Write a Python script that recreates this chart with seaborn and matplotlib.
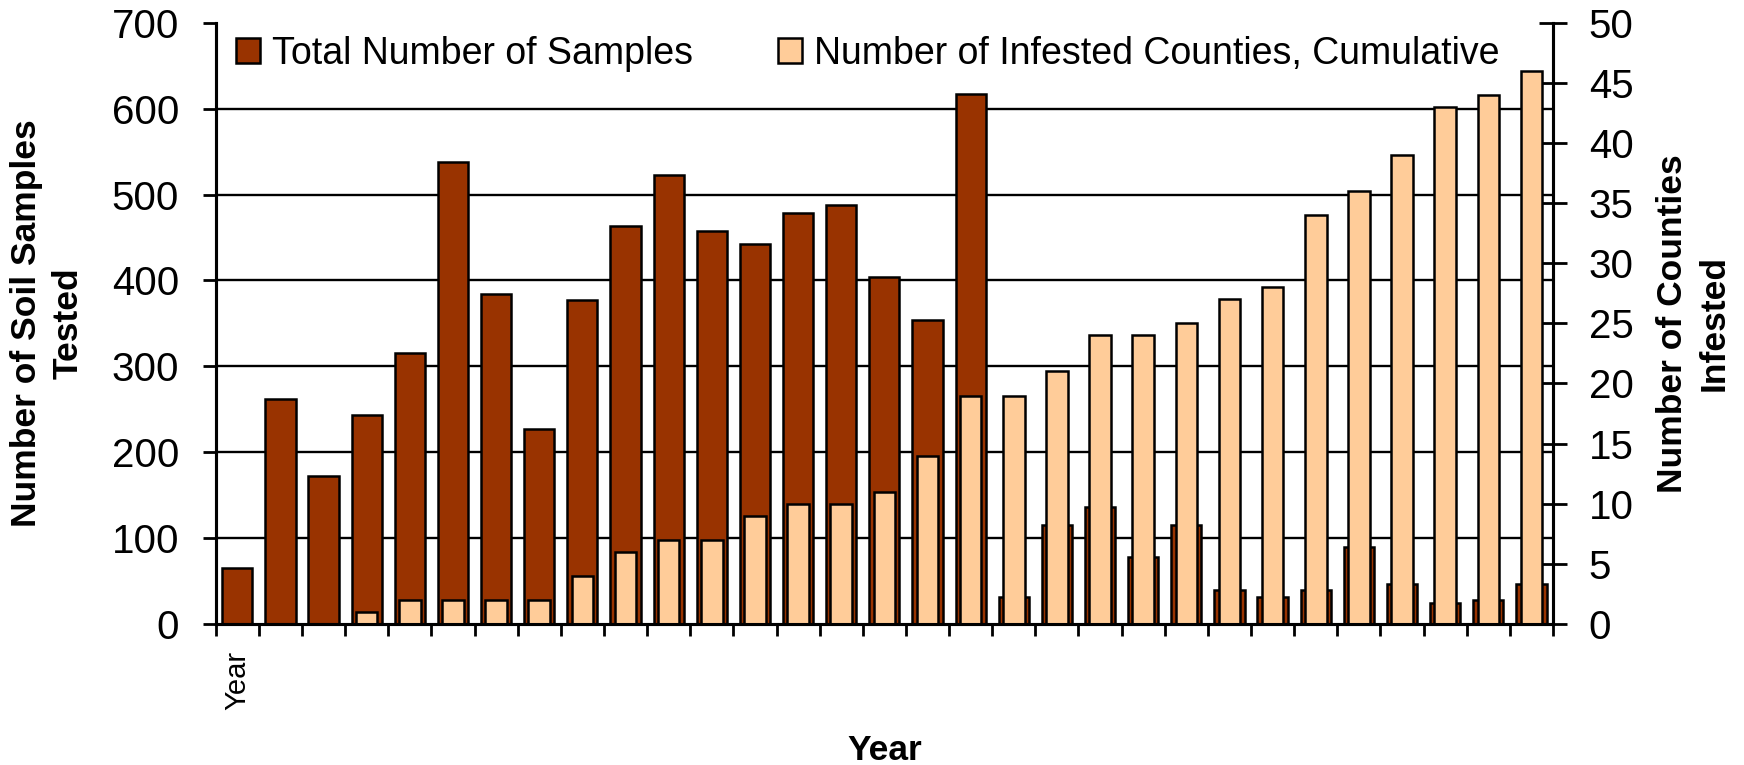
import numpy as np
import pandas as pd
import seaborn as sns
import matplotlib.pyplot as plt
from matplotlib.patches import Patch

plt.rcParams['font.family'] = ['Liberation Sans', 'DejaVu Sans']

# Dados (31 anos consecutivos)
year_index = list(range(1, 32))
tick_labels = ['Year'] + [''] * 30
samples = [65, 262, 172, 243, 315, 538, 384, 227, 377, 463, 523, 457, 442, 479, 488,
           404, 354, 617, 31, 115, 136, 78, 115, 40, 31, 40, 90, 46, 25, 28, 47]
counties = [0, 0, 0, 1, 2, 2, 2, 2, 4, 6, 7, 7, 9, 10, 10, 11, 14, 19, 19, 21, 24, 24,
            25, 27, 28, 34, 36, 39, 43, 44, 46]

df = pd.DataFrame({'idx': year_index, 'samples': samples, 'counties': counties})

brown = '#993300'
light = '#FFCC99'

fig = plt.figure(figsize=(17.44, 7.65), dpi=100)
ax = fig.add_axes([215.7 / 1744, 1 - 624 / 765, 1337.3 / 1744, 601.3 / 765])

# Linhas de grade atrás das barras
for v in range(100, 700, 100):
    ax.axhline(v, color='black', linewidth=1.7, zorder=0)

sns.barplot(data=df, x='idx', y='samples', ax=ax, color=brown, saturation=1,
            width=0.7, edgecolor='black', linewidth=1.8, zorder=2)

ax2 = ax.twinx()
sns.barplot(data=df, x='idx', y='counties', ax=ax2, color=light, saturation=1,
            width=0.5, edgecolor='black', linewidth=1.8, zorder=2)

ax.set_ylim(0, 700)
ax.set_yticks(range(0, 701, 100))
ax2.set_ylim(0, 50)
ax2.set_yticks(range(0, 51, 5))
ax.set_xlim(-0.5, len(year_index) - 0.5)

# Rótulo no centro da categoria, marcas entre categorias
ax.set_xticks(np.arange(len(year_index)))
ax.set_xticklabels(tick_labels, rotation=90, fontsize=21, va='top', ha='center')
ax.set_xticks(np.arange(len(year_index) + 1) - 0.5, minor=True)

for a in (ax, ax2):
    a.spines['top'].set_visible(False)
    for s in a.spines.values():
        s.set_linewidth(2.2)

ax.tick_params(axis='y', direction='out', length=9.5, width=2, labelsize=29, pad=17)
ax.tick_params(axis='x', which='major', length=0, pad=19)
ax.tick_params(axis='x', which='minor', direction='out', length=8.6, width=2)
ax2.tick_params(axis='y', direction='inout', length=19.5, width=2, labelsize=29, pad=16)

# Rótulos dos eixos
ax.set_xlabel('Year', fontsize=25.5, fontweight='bold', va='top')
ax.xaxis.set_label_coords(0.5, -0.183)
ax.set_ylabel('Number of Soil Samples\nTested', fontsize=25.5, fontweight='bold',
              linespacing=1.35)
ax.yaxis.set_label_coords(-0.0977, 0.5)
ax2.set_ylabel('Number of Counties\nInfested', fontsize=25.5, fontweight='bold',
               linespacing=1.35)
ax2.yaxis.set_label_coords(1.077, 0.5)

handles = [Patch(facecolor=brown, edgecolor='black', linewidth=1.8),
           Patch(facecolor=light, edgecolor='black', linewidth=1.8)]
labels = ['Total Number of Samples', 'Number of Infested Counties, Cumulative']
fig.legend(handles, labels, loc='center left', bbox_to_anchor=(236 / 1744, 1 - 54 / 765),
           ncol=2, frameon=False, fontsize=27, handlelength=0.64, handleheight=0.64,
           handletextpad=0.32, columnspacing=2.27, borderpad=0, borderaxespad=0)

plt.savefig('out.png', dpi=100)
